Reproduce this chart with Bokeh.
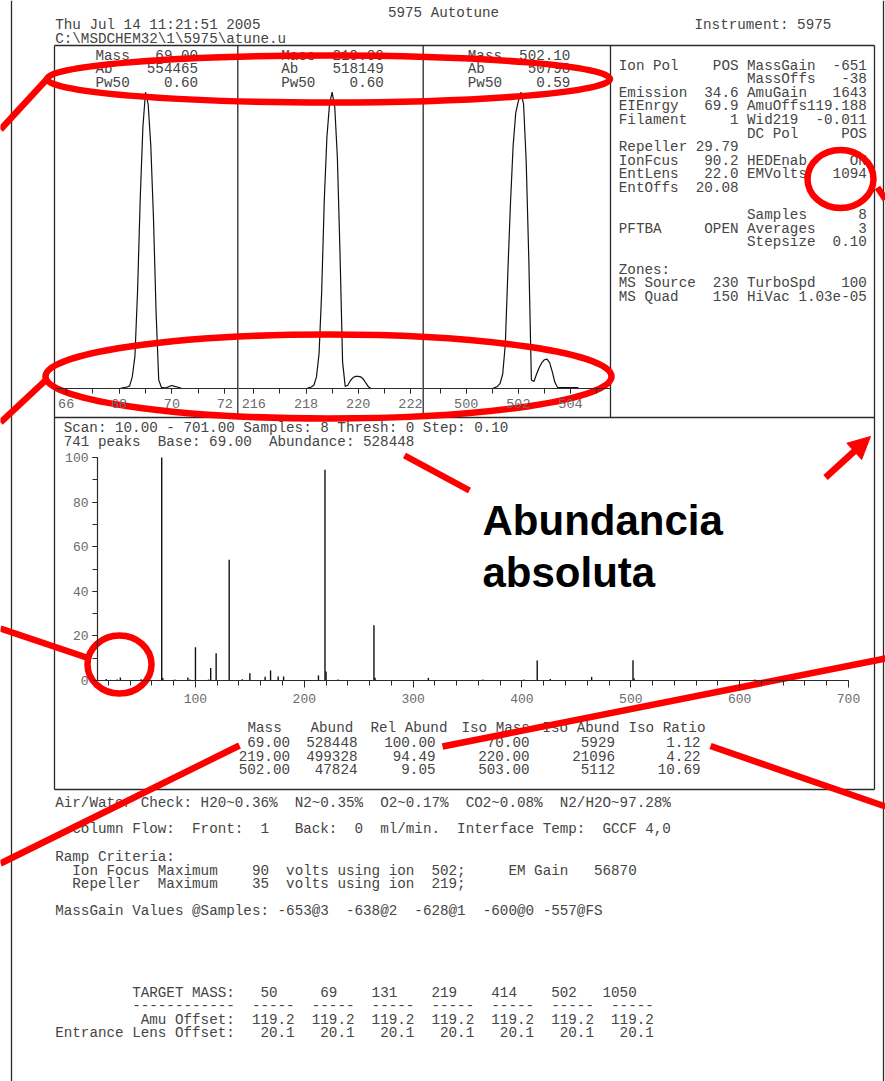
from bokeh.plotting import figure
from bokeh.models import Range1d, LinearAxis, SingleIntervalTicker, Arrow, NormalHead
from bokeh.core.properties import value
from bokeh.embed import file_html
from bokeh.resources import INLINE

W, H = 885, 1081
MONO = value("Liberation Mono")
INK = "#454545"
AXIS_INK = "#2a2a2a"
LABEL_INK = "#6a6a6a"
RED = "#ff0000"
FONT = "14.25px"

# ---------------- report data ----------------
title_text = "5975 Autotune"
date_text = "Thu Jul 14 11:21:51 2005"
path_text = "C:\\MSDCHEM32\\1\\5975\\atune.u"
instrument_text = "Instrument: 5975"

# profile scans of the three tune ions (relative abundance, %)
peak_mass = [69.00, 219.00, 502.10]
peak_ab = [554465, 518149, 50798]
peak_pw50 = [0.60, 0.60, 0.59]
profile_step = 0.10
profile_start = [68.0, 218.0, 501.0]
profile_69 = [0.0, 0.2, 0.4, 0.6, 1.0, 4.0, 11.0, 33.0, 64.0, 88.0, 100.0, 96.0,
              82.0, 58.0, 26.0, 3.0, 0.5, 0.3, 0.4, 0.8, 1.1, 0.8, 0.6, 0.3, 0.0]
profile_219 = [0.0, 0.3, 0.6, 1.2, 4.0, 12.0, 33.0, 64.0, 85.0, 96.0, 100.0, 95.0,
               78.0, 46.0, 9.0, 0.8, 1.2, 2.8, 3.8, 4.2, 4.2, 4.0, 3.2, 1.8, 0.6, 0.0]
profile_502 = [0.0, 0.4, 0.8, 1.8, 5.0, 15.0, 40.0, 63.0, 82.0, 93.0, 97.0, 100.0,
               96.0, 77.0, 44.0, 3.0, 2.5, 5.0, 7.2, 8.8, 9.8, 10.0, 8.8, 5.8, 2.2,
               0.5, 0.4, 0.4, 0.4, 0.4, 0.4, 0.4, 0.4, 0.4]
profiles = [profile_69, profile_219, profile_502]

param_lines = [
    "Ion Pol    POS MassGain  -651",
    "               MassOffs   -38",
    "Emission  34.6 AmuGain   1643",
    "EIEnrgy   69.9 AmuOffs119.188",
    "Filament     1 Wid219  -0.011",
    "               DC Pol     POS",
    "Repeller 29.79",
    "IonFcus   90.2 HEDEnab     ON",
    "EntLens   22.0 EMVolts   1094",
    "EntOffs  20.08",
    "",
    "               Samples      8",
    "PFTBA     OPEN Averages     3",
    "               Stepsize  0.10",
    "",
    "Zones:",
    "MS Source  230 TurboSpd   100",
    "MS Quad    150 HiVac 1.03e-05",
]

scan_text = "Scan: 10.00 - 701.00 Samples: 8 Thresh: 0 Step: 0.10"
peaks_text = "741 peaks  Base: 69.00  Abundance: 528448"
base_abundance = 528448

# ion table
tbl_mass = [69.00, 219.00, 502.00]
tbl_abund = [528448, 499328, 47824]
tbl_rel = [100.00, 94.49, 9.05]
tbl_iso_mass = [70.00, 220.00, 503.00]
tbl_iso_abund = [5929, 21096, 5112]
tbl_iso_ratio = [1.12, 4.22, 10.69]
tbl_headers = ["Mass", "Abund", "Rel Abund", "Iso Mass", "Iso Abund", "Iso Ratio"]

# remaining lines of the scan spectrum (m/z, relative abundance %)
other_mass = [18, 28, 31, 50, 81, 93, 95, 100, 112, 114, 119, 131, 143, 150, 164,
              169, 176, 181, 213, 231, 264, 265, 314, 364, 402, 414, 426, 464, 614]
other_rel = [0.7, 0.4, 1.3, 0.6, 0.5, 1.3, 0.5, 14.9, 0.5, 5.6, 12.2, 54.2, 0.6, 3.3,
             1.7, 4.5, 1.8, 1.8, 2.3, 0.5, 24.8, 1.2, 1.2, 0.5, 0.4, 9.0, 0.7, 1.6, 0.4]

air_text = "Air/Water Check: H20~0.36%  N2~0.35%  O2~0.17%  CO2~0.08%  N2/H2O~97.28%"
flow_text = "  Column Flow:  Front:  1   Back:  0  ml/min.  Interface Temp:  GCCF 4,0"
ramp_lines = [
    "Ramp Criteria:",
    "  Ion Focus Maximum    90  volts using ion  502;     EM Gain   56870",
    "  Repeller  Maximum    35  volts using ion  219;",
]
massgain_text = "MassGain Values @Samples: -653@3  -638@2  -628@1  -600@0 -557@FS"

target_mass = [50, 69, 131, 219, 414, 502, 1050]
amu_offset = [119.2, 119.2, 119.2, 119.2, 119.2, 119.2, 119.2]
entrance_offset = [20.1, 20.1, 20.1, 20.1, 20.1, 20.1, 20.1]

annotation_text = ["Abundancia", "absoluta"]

# ---------------- page geometry (pixels) ----------------
TEXT_X = 54.7
BOX_L, BOX_R, BOX_T, BOX_MID, BOX_B = 54, 874, 45, 417, 789
PANEL_EDGES = [53.5, 237.3, 422.7, 610]
PANEL_ANCHORS = [((66, 65.7), (72, 224.3)),
                 ((216, 253.3), (222, 410.0)),
                 ((500, 465.7), (504, 570.0))]
PANEL_BASE_Y, PANEL_TOP_Y = 388.3, 91.7
SPEC_X0, SPEC_X1 = (10, 97.0), (700, 848.0)
SPEC_Y0, SPEC_Y1 = (0, 680.0), (100, 457.0)


def fixed(s):
    # keep the column spacing of the printout (SVG collapses plain spaces)
    return s.replace(" ", "\u00a0")


def x_range_for(a, b):
    (v0, p0), (v1, p1) = a, b
    s = (p1 - p0) / (v1 - v0)
    return Range1d(v0 - p0 / s, v0 + (W - p0) / s)


def y_range_for(a, b):
    (v0, p0), (v1, p1) = a, b
    s = (p0 - p1) / (v1 - v0)
    return Range1d(v0 - (H - p0) / s, v0 + p0 / s)


def px_to_value(a, b, px):
    (v0, p0), (v1, p1) = a, b
    return v0 + (px - p0) * (v1 - v0) / (p1 - p0)


def mono(xs, ys, texts, **kw):
    p.text(x=xs, y=ys, text=[fixed(t) for t in texts], text_font=MONO,
           text_font_size=kw.pop("size", FONT), text_color=kw.pop("color", INK),
           text_baseline="middle", **kw)


p = figure(width=W, height=H, x_range=Range1d(0, W), y_range=Range1d(H, 0),
           x_axis_type=None, y_axis_type=None, toolbar_location=None,
           output_backend="svg", min_border=0)
p.outline_line_color = None
p.background_fill_color = "white"
p.border_fill_color = "white"

p.extra_x_ranges = {f"p{i}": x_range_for(*PANEL_ANCHORS[i]) for i in range(3)}
p.extra_x_ranges["sx"] = x_range_for(SPEC_X0, SPEC_X1)
p.extra_y_ranges = {"py": y_range_for((0, PANEL_BASE_Y), (100, PANEL_TOP_Y)),
                    "sy": y_range_for(SPEC_Y0, SPEC_Y1)}


def style_axis(ax, size="13px"):
    ax.axis_line_color = AXIS_INK
    ax.axis_line_width = 1.2
    ax.major_tick_line_color = AXIS_INK
    ax.minor_tick_line_color = AXIS_INK
    ax.major_tick_in = 0
    ax.minor_tick_in = 0
    ax.major_label_text_font = "Liberation Mono"
    ax.major_label_text_font_size = size
    ax.major_label_text_color = LABEL_INK


# ---------------- frames ----------------
frame_x0 = [11, W - 2, BOX_L, BOX_L, BOX_L, BOX_R, BOX_L] + PANEL_EDGES[1:]
frame_y0 = [0, 0, BOX_T, BOX_MID, BOX_B, BOX_T, BOX_T] + [BOX_T] * 3
frame_x1 = [11, W - 2, BOX_R, BOX_R, BOX_R, BOX_R, BOX_L] + PANEL_EDGES[1:]
frame_y1 = [H, H, BOX_T, BOX_MID, BOX_B, BOX_B, BOX_B] + [BOX_MID] * 3
p.segment(frame_x0, frame_y0, frame_x1, frame_y1, line_color=AXIS_INK, line_width=1.3)

# ---------------- header ----------------
mono([443], [12], [title_text], text_align="center")
mono([TEXT_X, TEXT_X, 694], [24.3, 38, 24.3], [date_text, path_text, instrument_text])

# ---------------- tune-ion profile panels ----------------
head_x = [95, 280.7, 467.3]
for i in range(3):
    rng = f"p{i}"
    lo = px_to_value(*PANEL_ANCHORS[i], PANEL_EDGES[i] + 0.5)
    hi = px_to_value(*PANEL_ANCHORS[i], PANEL_EDGES[i + 1] - 0.5)
    ax = LinearAxis(x_range_name=rng, fixed_location=PANEL_BASE_Y, bounds=(lo, hi),
                    ticker=SingleIntervalTicker(interval=2, num_minor_ticks=2))
    style_axis(ax, "13.5px")
    ax.major_tick_out = 5
    ax.minor_tick_out = 5
    ax.major_label_standoff = 5
    p.add_layout(ax, "below")

    xs = [profile_start[i] + profile_step * k for k in range(len(profiles[i]))]
    p.line(xs, profiles[i], x_range_name=rng, y_range_name="py",
           line_color="#111111", line_width=1.2)

    lines = [f"Mass{peak_mass[i]:>8.2f}", f"Ab{peak_ab[i]:>10d}", f"Pw50{peak_pw50[i]:>8.2f}"]
    mono([head_x[i]] * 3, [55, 68.8, 82.3], lines)

# ---------------- parameter block ----------------
mono([618.3] * len(param_lines), [65 + 13.6 * k for k in range(len(param_lines))],
     param_lines)

# ---------------- scan spectrum ----------------
mono([63.2, 63.2], [427.3, 441], [scan_text, peaks_text])

sx_axis = LinearAxis(x_range_name="sx", fixed_location=SPEC_Y0[1], bounds=(10, 700),
                     ticker=SingleIntervalTicker(interval=100, num_minor_ticks=5))
style_axis(sx_axis)
sx_axis.major_tick_out = 7
sx_axis.minor_tick_out = 5
sx_axis.major_label_standoff = 6
p.add_layout(sx_axis, "below")

sy_axis = LinearAxis(y_range_name="sy", fixed_location=SPEC_X0[1], bounds=(0, 100),
                     ticker=SingleIntervalTicker(interval=20, num_minor_ticks=2))
style_axis(sy_axis)
sy_axis.major_tick_out = 5
sy_axis.minor_tick_out = 5
sy_axis.major_label_standoff = 4
p.add_layout(sy_axis, "left")

iso_rel = [a / base_abundance * 100 for a in tbl_iso_abund]
bar_mass = other_mass + tbl_mass + tbl_iso_mass
bar_rel = other_rel + tbl_rel + iso_rel
p.segment(x0=bar_mass, y0=[0] * len(bar_mass), x1=bar_mass, y1=bar_rel,
          x_range_name="sx", y_range_name="sy", line_color="#111111", line_width=1.4)

# ion table
col_left = [247, 310, 370, 461, 542, 628]
col_right = [289.5, 357, 435, 529, 614.5, 700]
mono(col_left, [727.3] * 6, tbl_headers)
columns = [[f"{v:.2f}" for v in tbl_mass], [f"{v:d}" for v in tbl_abund],
           [f"{v:.2f}" for v in tbl_rel], [f"{v:.2f}" for v in tbl_iso_mass],
           [f"{v:d}" for v in tbl_iso_abund], [f"{v:.2f}" for v in tbl_iso_ratio]]
row_y = [741.8, 755.3, 768.8]
for c, vals in enumerate(columns):
    mono([col_right[c]] * 3, row_y, vals, text_align="right")

# ---------------- checks and criteria ----------------
lower = [air_text, flow_text] + ramp_lines + [massgain_text]
lower_y = [802.3, 828.5, 856.7, 870.1, 883.5, 910.7]
mono([TEXT_X] * len(lower), lower_y, lower)

target_line = " " * 9 + "TARGET MASS: " + "   ".join(f"{m:4d}" for m in target_mass)
dash_line = " " * 9 + "-" * 12 + "  " + "  ".join(["-----"] * len(target_mass))
amu_line = " " * 10 + "Amu Offset:" + "".join(f"  {v:5.1f}" for v in amu_offset)
lens_line = "Entrance Lens Offset:" + "".join(f"  {v:5.1f}" for v in entrance_offset)
mono([TEXT_X] * 4, [992.7, 1005.7, 1019.3, 1032],
     [target_line, dash_line, amu_line, lens_line])

# ---------------- red call-outs ----------------
p.ellipse(x=[328, 328, 119, 840], y=[78.5, 376, 664, 178.5],
          width=[563, 566, 64, 66], height=[47, 84, 58, 58],
          fill_color=None, line_color=RED, line_width=6.5)
p.segment(x0=[0, 0, 0, 404, 442, 710, 0, 877],
          y0=[129, 422, 628, 455, 746, 745.5, 863, 187],
          x1=[47, 47, 86, 469, 885, 885, 239, 885],
          y1=[78, 378, 657, 490, 658, 806, 745, 199],
          line_color=RED, line_width=6.5)
p.add_layout(Arrow(end=NormalHead(size=22, fill_color=RED, line_color=RED, line_width=1),
                   x_start=825, y_start=477, x_end=870, y_end=436,
                   line_color=RED, line_width=6.5))

p.text(x=[482, 482], y=[520, 571.7], text=annotation_text,
       text_font=value("Liberation Sans"), text_font_style="bold",
       text_font_size="42px", text_color="black", text_baseline="alphabetic")

open("out.html", "w").write(file_html(p, INLINE))
